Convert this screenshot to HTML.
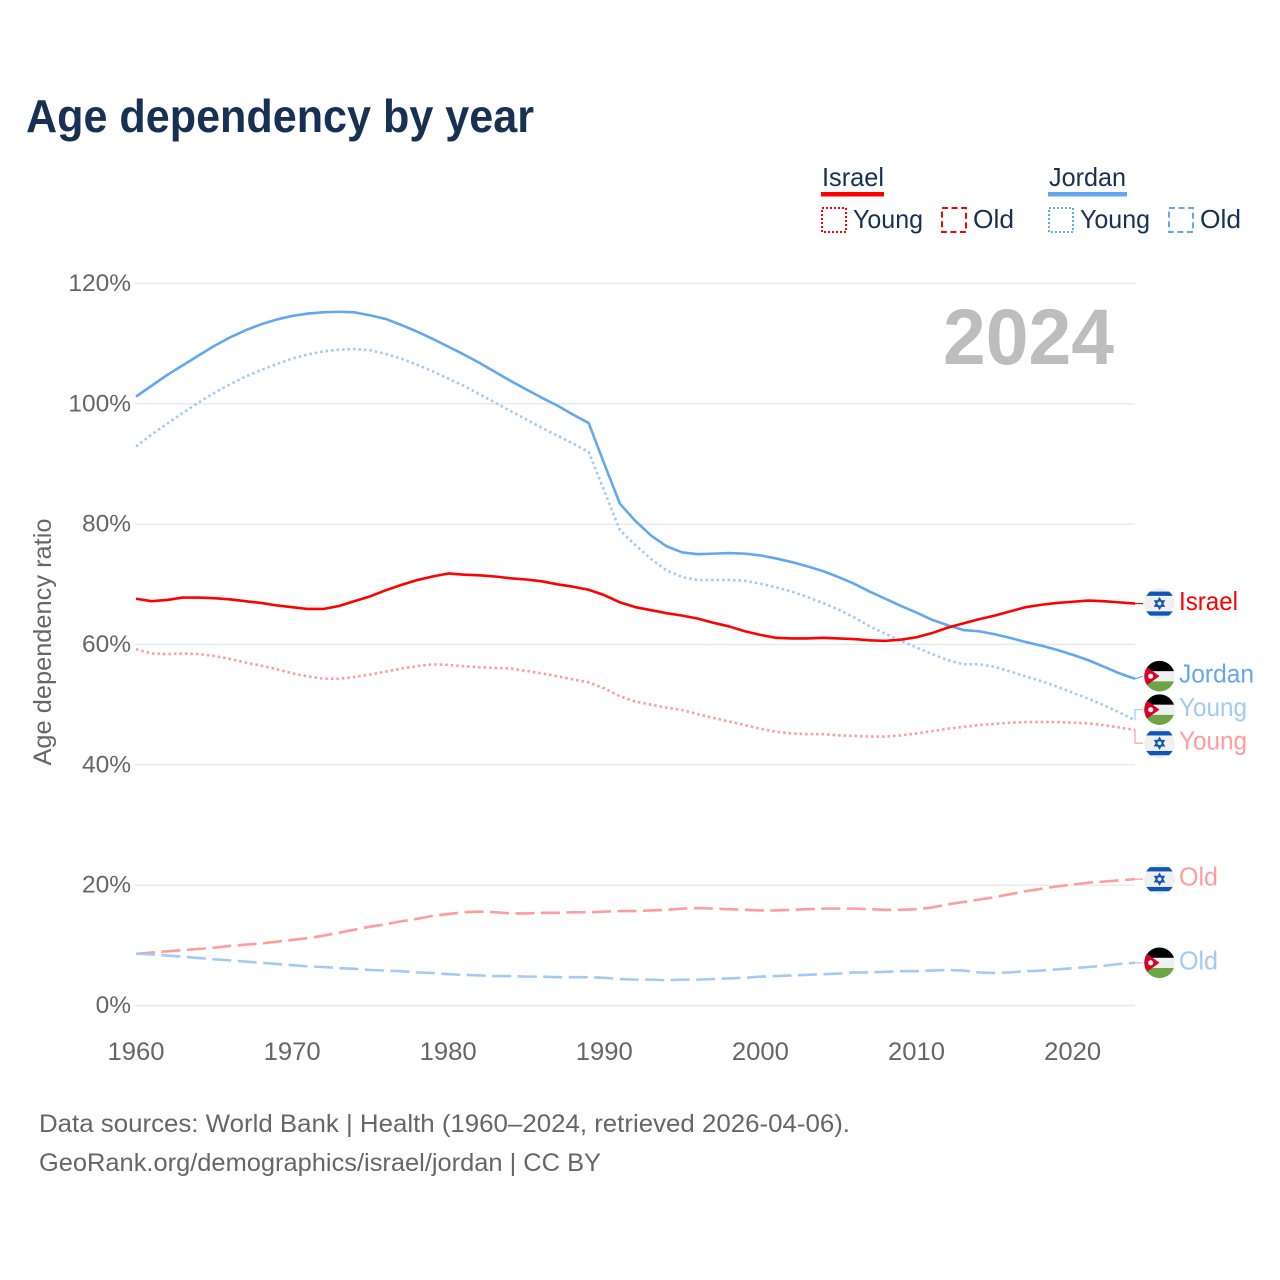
<!DOCTYPE html>
<html lang="en">
<head>
<meta charset="utf-8">
<title>Age dependency by year</title>
<style>
html,body{margin:0;padding:0;background:#fff;width:1280px;height:1280px;overflow:hidden}
svg{display:block}
text{font-family:"Liberation Sans",sans-serif}
</style>
</head>
<body>
<svg id="chart" xmlns="http://www.w3.org/2000/svg" width="1280" height="1280" viewBox="0 0 1280 1280">
  <defs>
    <clipPath id="flag-clip"><circle cx="0" cy="0" r="15.3"/></clipPath>
  </defs>
  <text x="26" y="132" font-size="46" font-weight="700" fill="#183153" textLength="508" lengthAdjust="spacingAndGlyphs">Age dependency by year</text>

  <g font-size="26" fill="#183153">
    <g>
      <text x="822" y="186" textLength="62" lengthAdjust="spacingAndGlyphs">Israel</text>
      <rect x="821" y="192" width="63" height="4.5" fill="#ff0000"/>
      <rect x="822" y="208" width="24" height="24" fill="none" stroke="#ff0000" stroke-width="2" stroke-dasharray="2 2"/>
      <text x="853" y="228" textLength="70" lengthAdjust="spacingAndGlyphs">Young</text>
      <rect x="942" y="208" width="24" height="24" fill="none" stroke="#ff0000" stroke-width="2" stroke-dasharray="6 3.6"/>
      <text x="973" y="228" textLength="41" lengthAdjust="spacingAndGlyphs">Old</text>
    </g>
    <g>
      <text x="1049" y="186" textLength="77" lengthAdjust="spacingAndGlyphs">Jordan</text>
      <rect x="1048" y="192" width="79" height="4.5" fill="#63a7ef"/>
      <rect x="1049" y="208" width="24" height="24" fill="none" stroke="#63a7ef" stroke-width="2" stroke-dasharray="2 2"/>
      <text x="1080" y="228" textLength="70" lengthAdjust="spacingAndGlyphs">Young</text>
      <rect x="1169" y="208" width="24" height="24" fill="none" stroke="#63a7ef" stroke-width="2" stroke-dasharray="6 3.6"/>
      <text x="1200" y="228" textLength="41" lengthAdjust="spacingAndGlyphs">Old</text>
    </g>
  </g>

  <g id="grid"></g>
  <g id="y-ticks"></g>
  <g id="x-ticks"></g>
  <text transform="translate(51,642) rotate(-90)" text-anchor="middle" font-size="25" fill="#666666" textLength="247" lengthAdjust="spacingAndGlyphs">Age dependency ratio</text>
  <text x="1114" y="364" text-anchor="end" font-size="79" font-weight="700" fill="#bdbdbd" textLength="171" lengthAdjust="spacingAndGlyphs">2024</text>
  <g id="series"></g>
  <g id="end-labels"></g>

  <text x="39" y="1132" font-size="25" fill="#666666" textLength="811" lengthAdjust="spacingAndGlyphs">Data sources: World Bank | Health (1960–2024, retrieved 2026-04-06).</text>
  <text x="39" y="1171" font-size="25" fill="#666666" textLength="562" lengthAdjust="spacingAndGlyphs">GeoRank.org/demographics/israel/jordan | CC BY</text>
</svg>
<script>
const startYear = 1960;
const xTickYears = [1960, 1970, 1980, 1990, 2000, 2010, 2020];
const yTickValues = [0, 20, 40, 60, 80, 100, 120];

const israelTotal = [
  67.6,67.2,67.4,67.8,67.8,67.7,67.5,67.2,66.9,66.5,
  66.2,65.9,65.9,66.4,67.2,68.0,69.0,69.9,70.7,71.3,
  71.8,71.6,71.5,71.3,71.0,70.8,70.5,70.0,69.6,69.1,
  68.2,67.0,66.2,65.7,65.2,64.8,64.3,63.6,63.0,62.2,
  61.6,61.1,61.0,61.0,61.1,61.0,60.9,60.7,60.6,60.8,
  61.2,61.9,62.8,63.5,64.2,64.8,65.5,66.2,66.6,66.9,
  67.1,67.3,67.2,67.0,66.8];
const israelYoung = [
  59.2,58.5,58.4,58.5,58.4,58.1,57.6,57.0,56.5,55.9,
  55.2,54.7,54.3,54.3,54.6,55.0,55.5,56.0,56.4,56.7,
  56.6,56.4,56.2,56.1,56.0,55.6,55.2,54.7,54.2,53.7,
  52.7,51.4,50.5,50.0,49.5,49.1,48.4,47.8,47.2,46.6,
  46.0,45.5,45.2,45.1,45.1,44.9,44.8,44.7,44.7,44.9,
  45.2,45.6,46.0,46.3,46.6,46.8,47.0,47.1,47.1,47.1,
  47.0,46.9,46.6,46.2,45.8];
const israelOld = [
  8.6,8.8,9.0,9.2,9.4,9.6,9.9,10.1,10.3,10.6,
  10.9,11.2,11.6,12.1,12.6,13.1,13.5,14.0,14.4,14.9,
  15.2,15.5,15.6,15.5,15.3,15.3,15.4,15.4,15.5,15.5,
  15.6,15.7,15.7,15.8,15.9,16.1,16.2,16.1,16.0,15.9,
  15.8,15.8,15.9,16.0,16.1,16.1,16.1,16.0,15.9,15.9,
  16.0,16.3,16.8,17.2,17.6,18.0,18.5,19.0,19.4,19.8,
  20.1,20.4,20.6,20.8,21.0];
const jordanTotal = [
  101.2,103.0,104.8,106.4,108.0,109.6,111.0,112.2,113.2,114.0,
  114.6,115.0,115.2,115.3,115.2,114.7,114.1,113.1,112.0,110.8,
  109.5,108.2,106.8,105.3,103.8,102.4,101.0,99.7,98.2,96.8,
  90.0,83.4,80.5,78.1,76.3,75.3,75.0,75.1,75.2,75.1,
  74.8,74.3,73.7,73.0,72.2,71.2,70.1,68.8,67.6,66.4,
  65.3,64.1,63.2,62.4,62.2,61.7,61.1,60.4,59.8,59.1,
  58.3,57.4,56.3,55.2,54.3];
const jordanYoung = [
  92.9,94.9,96.7,98.5,100.2,101.8,103.2,104.5,105.6,106.6,
  107.5,108.2,108.7,109.0,109.1,108.9,108.3,107.5,106.5,105.4,
  104.2,103.0,101.6,100.2,98.8,97.4,96.0,94.7,93.4,92.0,
  85.5,79.0,76.5,74.2,72.3,71.2,70.7,70.7,70.7,70.6,
  70.1,69.5,68.8,67.9,66.9,65.8,64.5,63.0,61.8,60.6,
  59.5,58.4,57.4,56.7,56.7,56.3,55.5,54.7,53.9,53.0,
  52.0,51.0,49.9,48.7,47.4];
const jordanOld = [
  8.6,8.5,8.3,8.1,7.9,7.7,7.5,7.3,7.1,6.9,
  6.7,6.5,6.4,6.2,6.1,5.9,5.8,5.7,5.5,5.4,
  5.2,5.1,5.0,4.9,4.9,4.8,4.8,4.7,4.7,4.7,
  4.6,4.4,4.3,4.3,4.2,4.3,4.3,4.4,4.5,4.6,
  4.8,4.9,5.0,5.1,5.2,5.3,5.5,5.5,5.6,5.7,
  5.7,5.8,5.9,5.8,5.5,5.4,5.5,5.7,5.8,6.0,
  6.2,6.4,6.6,6.9,7.1];

const NS = 'http://www.w3.org/2000/svg';
const xScale = function (year) { return 136 + (year - 1960) * 15.61; };
const yScale = function (value) { return 1005.5 - value * 6.017; };

function make(tag, attrs, parent) {
  const el = document.createElementNS(NS, tag);
  Object.keys(attrs).forEach(function (k) { el.setAttribute(k, attrs[k]); });
  parent.appendChild(el);
  return el;
}

const gridGroup = document.getElementById('grid');
const yTickGroup = document.getElementById('y-ticks');
const xTickGroup = document.getElementById('x-ticks');

yTickValues.forEach(function (v) {
  const line = make('line', {x1: 135, x2: 1135, y1: yScale(v), y2: yScale(v), stroke: '#e8e8e8', 'stroke-width': 1.4}, gridGroup);
  
  
  const t = make('text', {x: 131, y: yScale(v) + 7.5, 'text-anchor': 'end', 'font-size': 24.5, fill: '#666666'}, yTickGroup);
  
  
  t.textContent = v + '%';
});

xTickYears.forEach(function (y) {
  const t = make('text', {x: xScale(y), y: 1060, 'text-anchor': 'middle', 'font-size': 25, fill: '#666666', textLength: 57, lengthAdjust: 'spacingAndGlyphs'}, xTickGroup);
  
  
  t.textContent = y;
});

const seriesList = [
  {id: 'israel-young', label: 'Young', flag: 'israel', values: israelYoung, color: '#ff9c9c', dash: '2.5 3'},
  {id: 'jordan-young', label: 'Young', flag: 'jordan', values: jordanYoung, color: '#a3caf5', dash: '2.5 3'},
  {id: 'israel-old', label: 'Old', flag: 'israel', values: israelOld, color: '#ff9c9c', dash: '19 6.5'},
  {id: 'jordan-old', label: 'Old', flag: 'jordan', values: jordanOld, color: '#a3caf5', dash: '19 6.5'},
  {id: 'jordan-total', label: 'Jordan', flag: 'jordan', values: jordanTotal, color: '#63a7ef', dash: ''},
  {id: 'israel-total', label: 'Israel', flag: 'israel', values: israelTotal, color: '#ff0000', dash: ''}
];

const seriesGroup = document.getElementById('series');
seriesList.forEach(function (s) {
  const d = s.values.map(function (v, i) {
    return (i ? 'L' : 'M') + xScale(startYear + i).toFixed(2) + ' ' + yScale(v).toFixed(2);
  }).join(' ');
  const p = make('path', {d: d, fill: 'none', stroke: s.color, 'stroke-width': 2.6, 'stroke-linejoin': 'round'}, seriesGroup);
  if (s.dash) p.setAttribute('stroke-dasharray', s.dash);
  
  
});

/* End labels: start at each series' last value, then spread colliding labels apart. */
const LABEL_GAP = 33.5;
const placed = seriesList.map(function (s) {
  const endY = yScale(s.values[s.values.length - 1]);
  return {s: s, endY: endY, y: endY};
}).sort(function (a, b) { return a.endY - b.endY; });

let clusters = placed.map(function (p) { return {items: [p], mean: p.endY}; });
let merged = true;
while (merged) {
  merged = false;
  for (let i = 0; i < clusters.length - 1; i++) {
    const a = clusters[i], b = clusters[i + 1];
    const aBottom = a.mean + (a.items.length - 1) * LABEL_GAP / 2;
    const bTop = b.mean - (b.items.length - 1) * LABEL_GAP / 2;
    if (bTop - aBottom < LABEL_GAP) {
      const items = a.items.concat(b.items);
      const sum = items.reduce(function (acc, it) { return acc + it.endY; }, 0);
      clusters.splice(i, 2, {items: items, mean: sum / items.length});
      merged = true;
      break;
    }
  }
}
clusters.forEach(function (c) {
  c.items.forEach(function (it, i) {
    it.y = c.mean + (i - (c.items.length - 1) / 2) * LABEL_GAP;
  });
});

function drawFlag(kind, g) {
  make('circle', {cx: 0, cy: 0, r: 15.3, fill: '#f0f0f0'}, g);
  const c = make('g', {'clip-path': 'url(#flag-clip)'}, g);
  if (kind === 'israel') {
    make('rect', {x: -16, y: -12, width: 32, height: 4.3, fill: '#0f57b5'}, c);
    make('rect', {x: -16, y: 7.8, width: 32, height: 4.3, fill: '#0f57b5'}, c);
    make('polygon', {points: '0,-5.2 4.5,2.6 -4.5,2.6', fill: 'none', stroke: '#0f57b5', 'stroke-width': 1.5}, c);
    make('polygon', {points: '0,5.2 4.5,-2.6 -4.5,-2.6', fill: 'none', stroke: '#0f57b5', 'stroke-width': 1.5}, c);
  } else {
    make('rect', {x: -16, y: -16, width: 32, height: 11, fill: '#000000'}, c);
    make('rect', {x: -16, y: 5.2, width: 32, height: 11, fill: '#6da544'}, c);
    make('polygon', {points: '-16,-11.5 0,0 -16,11.5', fill: '#d80027'}, c);
    make('circle', {cx: -8.8, cy: 0, r: 2.6, fill: '#f0f0f0'}, c);
  }
}

const labelGroup = document.getElementById('end-labels');
placed.forEach(function (p) {
  const s = p.s;
  const endX = xScale(startYear + s.values.length - 1);
  const g = make('g', {}, labelGroup);
  
  

  const straight = Math.abs(p.y - p.endY) < 4;
  const leaderPath = straight
    ? 'M' + endX + ' ' + p.endY + ' L1143 ' + p.y
    : 'M' + endX + ' ' + p.endY + ' L' + endX + ' ' + p.y + ' L1143 ' + p.y;
  const leader = make('path', {d: leaderPath, fill: 'none', stroke: s.color, 'stroke-width': 1.2}, g);
  
  

  const flag = make('g', {transform: 'translate(1159.5,' + p.y + ')'}, g);
  
  
  drawFlag(s.flag, flag);

  const widths = {Israel: 59, Jordan: 75, Young: 68, Old: 39};
  const t = make('text', {x: 1179, y: p.y + 6.5, 'font-size': 26, fill: s.color, textLength: widths[s.label], lengthAdjust: 'spacingAndGlyphs'}, g);
  
  
  t.textContent = s.label;
});
</script>
</body>
</html>
